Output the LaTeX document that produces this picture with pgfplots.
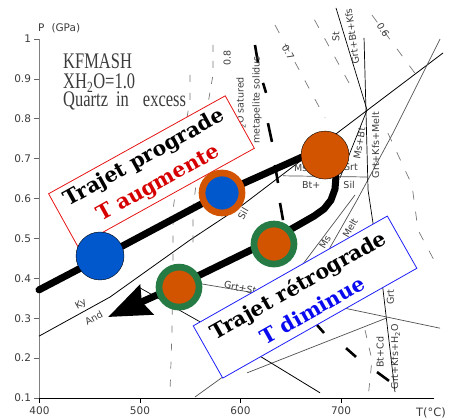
\documentclass[border=0pt]{standalone}
\usepackage{pgfplots}
\pgfplotsset{compat=1.18}
\usepackage{fontspec}
\usetikzlibrary{arrows.meta}
\newfontfamily\dvs{DejaVu Sans}
\newfontfamily\dvserif{DejaVu Serif}
\newfontfamily\libserif{Liberation Serif}
\definecolor{cblue}{RGB}{0,88,204}
\definecolor{corange}{RGB}{211,84,0}
\definecolor{cgreen}{RGB}{38,123,69}
\definecolor{cred}{RGB}{214,0,0}
\definecolor{bred}{RGB}{230,20,20}
\definecolor{tblue}{RGB}{10,10,240}
\definecolor{bblue}{RGB}{30,30,250}
\definecolor{gline}{RGB}{80,80,80}
\definecolor{dline}{RGB}{120,120,120}
\definecolor{txt}{RGB}{60,60,60}
\begin{document}
\begin{tikzpicture}
\path[use as bounding box] (-39.5pt,-22pt) rectangle (411.5pt,398pt);
\begin{axis}[
  scale only axis, width=395pt, height=359pt,
  xmin=400, xmax=793, ymin=0.1, ymax=1,
  axis x line*=bottom, axis y line*=left,
  x axis line style={black, line width=0.8pt},
  y axis line style={gray, line width=0.8pt},
  xtick={400,500,600,700}, xticklabels={400,500,600,700},
  ytick={0.1,0.2,0.3,0.4,0.5,0.6,0.7,0.8,0.9,1.0},
  yticklabels={0.1,0.2,0.3,0.4,0.5,0.6,0.7,0.8,0.9,1},
  /pgf/number format/assume math mode=true,
  tick align=outside, major tick length=5pt,
  xtick style={black, line width=0.7pt},
  ytick style={gray!80!black, line width=0.7pt},
  ticklabel style={font=\dvs\fontsize{10.5}{12}\selectfont, text=txt},
  clip=false,
]
% ---- background grid: solid lines ----
\addplot[black, line width=0.8pt] coordinates {(399.5,0.255) (470.1,0.353) (549.7,0.496) (599.5,0.579) (696.0,0.764) (801.5,0.965)};
\addplot[gline, line width=0.7pt] coordinates {(798.5,1.000) (751.7,0.764) (715.9,0.596) (679.1,0.433)};
\addplot[black, line width=0.7pt] coordinates {(695.0,1.078) (725.9,0.822) (699.0,0.652)};
\addplot[black, line width=0.7pt] coordinates {(722.9,1.003) (726.9,0.621) (741.8,0.371) (753.7,0.115)};
\addplot[gline, line width=0.7pt] coordinates {(642.3,0.657) (726.9,0.654)};
\addplot[gline, line width=0.7pt] coordinates {(556.7,0.388) (702.0,0.326) (798.5,0.275)};
\addplot[black, line width=0.7pt] coordinates {(500.0,0.376) (559.7,0.291)};
\addplot[gline, line width=0.7pt] coordinates {(606.5,0.163) (745.8,0.301)};
\addplot[black, line width=0.8pt] coordinates {(609.5,0.220) (679.1,0.113)};
\addplot[gline, line width=0.7pt] coordinates {(554.7,0.1025) (619.4,0.220)};
\addplot[gline, line width=0.7pt] coordinates {(713.9,0.609) (659.2,0.426)};
% ---- dashed isopleths ----
\addplot[dline, line width=0.7pt, dash pattern=on 7pt off 9pt] coordinates {(572.6,0.985) (572.6,0.910) (559.7,0.722) (552.7,0.571) (552.7,0.471)};
\addplot[dline, line width=0.7pt, dash pattern=on 7pt off 11pt] coordinates {(549.7,0.910) (549.7,0.847) (539.8,0.697) (532.8,0.571) (532.8,0.458) (531.8,0.270) (529.8,0.1075)};
\addplot[dline, line width=0.7pt, dash pattern=on 9pt off 12pt] coordinates {(634.3,1.035) (684.1,0.802)};
\addplot[dline, line width=0.7pt, dash pattern=on 9pt off 12pt] coordinates {(673.6,1.048) (709.0,0.885)};
\addplot[dline, line width=0.7pt, dash pattern=on 9pt off 12pt] coordinates {(730.8,1.060) (778.6,0.897)};
\addplot[dline, line width=0.7pt, dash pattern=on 9pt off 12pt] coordinates {(746.7,0.764) (770.6,0.634) (776.6,0.521) (793.5,0.441)};
\addplot[dline, line width=0.7pt, dash pattern=on 8pt off 10pt] coordinates {(723.9,0.270) (730.8,0.195) (726.9,0.100)};
% ---- thick dashed solidus ----
\addplot[black, line width=2.6pt] coordinates {(614.4,0.985) (617.4,0.940)};
\addplot[black, line width=2.6pt] coordinates {(622.4,0.890) (625.4,0.865)};
\addplot[black, line width=2.6pt] coordinates {(627.3,0.789) (631.3,0.742)};
\addplot[black, line width=2.6pt] coordinates {(634.3,0.684) (637.3,0.639)};
\addplot[black, line width=2.6pt] coordinates {(639.3,0.589) (642.3,0.546)};
\addplot[black, line width=2.6pt] coordinates {(676.1,0.283) (683.1,0.263)};
\addplot[black, line width=2.6pt] coordinates {(705.0,0.225) (714.9,0.203)};
\addplot[black, line width=2.6pt] coordinates {(735.8,0.165) (747.7,0.143)};
% ---- small labels ----
\begin{scope}[every node/.style={font=\dvs\fontsize{9.5}{11}\selectfont, text=txt, inner sep=0pt}]
\node[rotate=29] at (axis cs:441.3,0.335) {Ky};
\node[rotate=29] at (axis cs:454.0,0.300) {And};
\node[rotate=60] at (axis cs:602.5,0.562) {Sil};
\node[rotate=90] at (axis cs:695.0,1.005) {St};
\node[rotate=98, anchor=west] at (axis cs:714.9,0.937) {Grt+Bt+Kfs};
\node[rotate=90] at (axis cs:734.3,0.734) {Grt+Kfs+Melt};
\node[rotate=80] at (axis cs:718.4,0.739) {Ms+Bt};
\node[anchor=west] at (axis cs:653.2,0.676) {Ms+};
\node[anchor=east] at (axis cs:716.9,0.678) {Grt};
\node[anchor=west] at (axis cs:661.2,0.634) {Bt+};
\node[anchor=east] at (axis cs:713.9,0.634) {Sil};
\node[rotate=60] at (axis cs:709.0,0.526) {Melt};
\node[rotate=60] at (axis cs:684.1,0.491) {Ms};
\node[rotate=-12, anchor=west] at (axis cs:583.6,0.385) {Grt+St};
\node[rotate=90] at (axis cs:749.2,0.353) {Grt};
\node[rotate=90] at (axis cs:754.2,0.203) {Grt+Kfs+H\textsubscript{2}O};
\node[rotate=90] at (axis cs:738.8,0.215) {Bt+Cd};
\node[rotate=90, anchor=east] at (axis cs:600.5,0.905) {H\textsubscript{2}O satured};
\node[rotate=90] at (axis cs:616.4,0.847) {metapelite solidus};
\node[rotate=90] at (axis cs:586.6,0.952) {0.8};
\node[rotate=-60] at (axis cs:647.3,0.967) {0.7};
\node[rotate=-60] at (axis cs:741.8,1.023) {0.6};
\end{scope}
% ---- header texts ----
\node[anchor=base west, inner sep=0pt, yscale=1.35, text=txt, font=\libserif\fontsize{16.5}{18}\selectfont] at (axis cs:423.4,0.927) {KFMASH};
\node[anchor=base west, inner sep=0pt, yscale=1.35, text=txt, font=\libserif\fontsize{16.5}{18}\selectfont] at (axis cs:423.4,0.875) {XH\textsubscript{2}O=1.0};
\node[anchor=base west, inner sep=0pt, yscale=1.35, text=txt, font=\libserif\fontsize{16.5}{18}\selectfont] at (axis cs:423.4,0.832) {Quartz\hspace{8pt}in\hspace{14pt}excess};
\node[anchor=west, inner sep=0pt, text=txt, font=\dvs\fontsize{10.5}{12}\selectfont] at (axis cs:398.5,1.028) {P\hspace{7pt}(GPa)};
\node[inner sep=0pt, text=txt, font=\dvs\fontsize{11.5}{12}\selectfont] at (axis cs:789.5,0.062) {T(°C)};
% ---- thick P-T path ----
\addplot[black, line width=7pt, line cap=round, line join=round, -{Stealth[length=42pt, width=32pt, inset=5pt]}] coordinates {
 (399.5,0.371) (460.2,0.451) (581.6,0.614) (677.1,0.722) (687.1,0.707) (692.5,0.679) (694.9,0.652) (694.0,0.624)
 (690.0,0.596) (683.1,0.574) (673.1,0.556) (659.2,0.536) (647.3,0.519) (633.3,0.499) (538.8,0.383) (468.2,0.303)};
% ---- circles ----
\addplot[only marks, mark=*, mark size=24pt, mark options={fill=cblue, draw=none}] coordinates {(460.2,0.456)};
\addplot[only marks, mark=*, mark size=20pt, mark options={fill=cblue, draw=corange, line width=6.7pt}] coordinates {(581.6,0.614)};
\addplot[only marks, mark=*, mark size=24pt, mark options={fill=corange, draw=none}] coordinates {(684.1,0.709)};
\addplot[only marks, mark=*, mark size=20pt, mark options={fill=corange, draw=cgreen, line width=6.7pt}] coordinates {(538.8,0.378) (633.3,0.486)};
% ---- boxes ----
\node[draw=bred, line width=0.8pt, fill=white, rotate=29, minimum width=202pt, minimum height=60pt, inner sep=0pt, align=center, font=\dvserif\bfseries\fontsize{20.5}{29}\selectfont] at (axis cs:511.4,0.669) {Trajet prograde\\\textcolor{cred}{T augmente}};
\node[draw=bblue, line width=0.8pt, fill=white, rotate=29.5, minimum width=223pt, minimum height=60pt, inner sep=0pt, align=center, font=\dvserif\bfseries\fontsize{20.5}{29}\selectfont] at (axis cs:664.2,0.353) {Trajet rétrograde\\\textcolor{tblue}{T diminue}};
\end{axis}
\end{tikzpicture}
\end{document}
